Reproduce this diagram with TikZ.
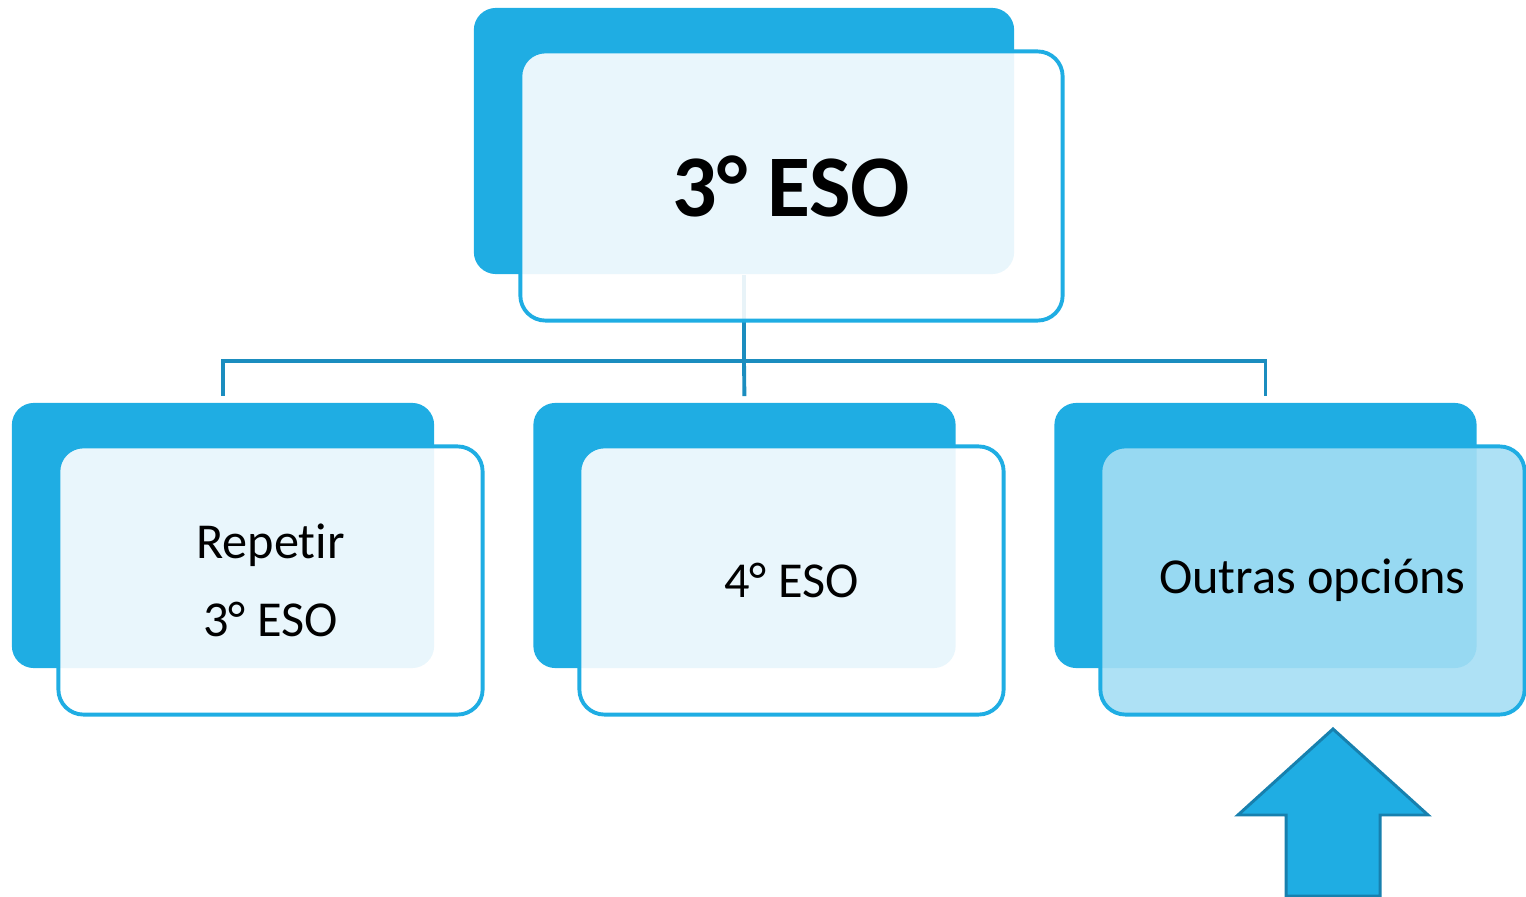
\documentclass[tikz,border=0pt]{standalone}
\usepackage{fontspec}
\setmainfont[Ligatures={NoCommon}]{Carlito}
\usetikzlibrary{positioning,calc}
\definecolor{boxblue}{HTML}{1FADE3}
\definecolor{linkblue}{HTML}{1B8DBF}
\definecolor{arrowedge}{HTML}{1780AE}
\definecolor{paleblue}{HTML}{A5DEF4}
\tikzset{
  back/.style={fill=boxblue, rounded corners=0.22cm, minimum width=4.22cm, minimum height=2.65cm, inner sep=0pt},
  front/.style={draw=boxblue, line width=1.1pt, fill=white, fill opacity=0.9, text opacity=1,
    rounded corners=0.25cm, minimum width=4.24cm, minimum height=2.68cm, align=center, inner sep=0pt,
    font=\fontsize{14.3}{22}\selectfont},
  link/.style={draw=linkblue, line width=1.1pt},
}

\begin{document}
\begin{tikzpicture}[x=0.01cm, y=-0.01cm]
          \useasboundingbox (0,0) rectangle (1526,897);

          % back boxes
          \node[back, minimum width=5.40cm, minimum height=2.66cm] (topb) at (744,141) {};
          \node[back] (repb) at (223,535.5) {};
          \node[back] (midb) at (744.5,535.5) {};
          \node[back] (outb) at (1265.5,535.5) {};

          % connectors
          \coordinate (hub) at (744,361);
          \draw[link] (topb.south) -- (hub);
          \draw[link, shorten >=0.06cm] (hub) -- (midb.north);
          \draw[link, shorten >=0.06cm] (hub) -| (repb.north);
          \draw[link, shorten >=0.06cm] (hub) -| (outb.north);

          % front boxes
          \node[front, minimum width=5.42cm, minimum height=2.69cm,
                font=\fontsize{25}{28}\selectfont\bfseries] (top) at (791.5,186) {3° ESO};
          \node[front] (rep) at (270.5,580.5) {Repetir\\3° ESO};
          \node[front] (mid) at (791.5,580.5) {4° ESO};
          \node[front, fill=paleblue] (out) at (1312.5,580.5) {Outras opcións};

          % arrow
          \draw[fill=boxblue, draw=arrowedge, line width=0.85pt]
            (1333,729) -- (1428,815) -- (1380,815) -- (1380,896) -- (1286,896)
            -- (1286,815) -- (1238,815) -- cycle;
        \end{tikzpicture}
\end{document}
